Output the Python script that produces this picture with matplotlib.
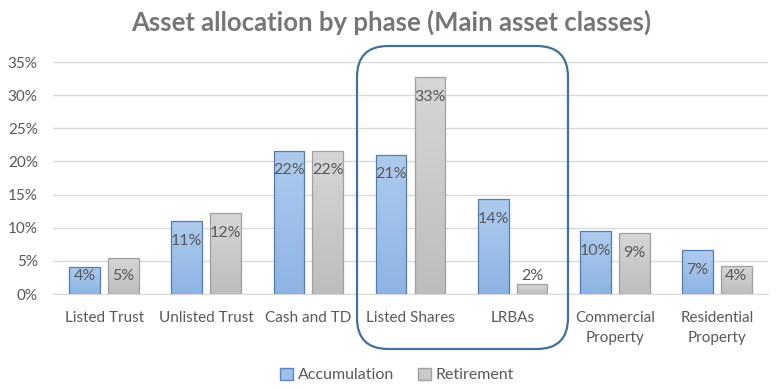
import numpy as np
import matplotlib
matplotlib.use("Agg")
import matplotlib.pyplot as plt
from matplotlib.patches import FancyBboxPatch, Patch
from matplotlib.colors import LinearSegmentedColormap

categories = ["Listed Trust", "Unlisted Trust", "Cash and TD", "Listed Shares",
              "LRBAs", "Commercial\nProperty", "Residential\nProperty"]
accumulation = [0.041, 0.110, 0.216, 0.210, 0.143, 0.095, 0.066]
retirement = [0.054, 0.122, 0.216, 0.327, 0.015, 0.092, 0.042]
yticks = [0, 0.05, 0.10, 0.15, 0.20, 0.25, 0.30, 0.35]

FONT = ["Lato", "DejaVu Sans"]
TXT = "#595959"

fig = plt.figure(figsize=(7.79, 3.89), dpi=100)
ax_h_px = 294 - 62
ax = fig.add_axes([53 / 779, 1 - 294 / 389, (768 - 53) / 779, ax_h_px / 389])
YMAX = 0.35
px = YMAX / ax_h_px  # data units per pixel

x = np.arange(len(categories))
w = 0.30
off = 0.19

blue_cmap = LinearSegmentedColormap.from_list("b", ["#8DB4E3", "#AECBEE"])
gray_cmap = LinearSegmentedColormap.from_list("g", ["#BDBDBD", "#D6D6D6"])
grad = np.linspace(0, 1, 256).reshape(-1, 1)

def draw(series, dx, cmap, edge):
    bars = ax.bar(x + dx, series, w, facecolor="none", edgecolor=edge, linewidth=0.9, zorder=3)
    for b in bars:
        x0, y0 = b.get_x(), b.get_y()
        bw, bh = b.get_width(), b.get_height()
        im = ax.imshow(grad, cmap=cmap, origin="lower", aspect="auto",
                       extent=(x0, x0 + bw, y0, y0 + bh), zorder=2)
        im.set_clip_path(b)
    for xi, v in zip(x + dx, series):
        ly = max(v - 19.5 * px, 18 * px)
        ax.text(xi, ly, f"{v*100:.0f}%", ha="center", va="center",
                fontsize=11.5, color=TXT, family=FONT, zorder=4)
    return bars

draw(accumulation, -off, blue_cmap, "#4F7DB8")
draw(retirement, off, gray_cmap, "#A0A0A0")

ax.set_xlim(-0.5, len(categories) - 0.5)
ax.set_ylim(0, YMAX)
ax.set_yticks(yticks)
ax.set_yticklabels([f"{t*100:.0f}%" for t in yticks], family=FONT, fontsize=11, color=TXT)
ax.set_xticks(x)
ax.set_xticklabels(categories, family=FONT, fontsize=11, color=TXT, linespacing=1.5)
ax.tick_params(axis="both", length=0)
ax.tick_params(axis="x", pad=12.5)
ax.tick_params(axis="y", pad=11)
ax.grid(axis="y", color="#D9D9D9", linewidth=1.0, zorder=0)
ax.set_axisbelow(True)
for s in ["top", "right", "left"]:
    ax.spines[s].set_visible(False)
ax.spines["bottom"].set_color("#D9D9D9")
ax.set_facecolor("none")

fig.text(391 / 779, 1 - 22 / 389, "Asset allocation by phase (Main asset classes)",
         ha="center", va="center", fontsize=18.5, fontweight="bold", color="#767676", family=FONT)

# highlight box (figure pixel coords)
box = FancyBboxPatch((357 / 779, 1 - 349 / 389), (568 - 357) / 779, (349 - 46) / 389,
                     boxstyle="round,pad=0,rounding_size=0.04",
                     transform=fig.transFigure, facecolor="none", edgecolor="#41719C",
                     linewidth=1.6, mutation_aspect=779 / 389, zorder=10)
fig.add_artist(box)

handles = [Patch(facecolor="#9DC0EA", edgecolor="#5A86BE", label="Accumulation"),
           Patch(facecolor="#CACACA", edgecolor="#A0A0A0", label="Retirement")]
fig.legend(handles=handles, loc="center", bbox_to_anchor=(397 / 779, 1 - 375 / 389), ncol=2,
           frameon=False, prop={"family": FONT, "size": 11.5}, labelcolor=TXT,
           handlelength=0.8, handleheight=0.8, handletextpad=0.3, columnspacing=1.5)

fig.savefig("out.png", dpi=100, facecolor="white")
